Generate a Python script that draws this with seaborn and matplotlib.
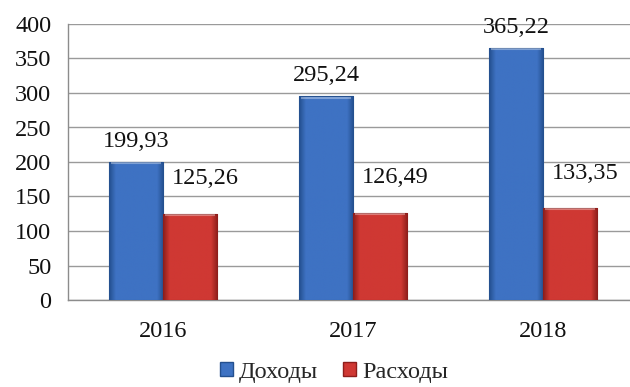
import matplotlib
matplotlib.use("Agg")
import matplotlib.pyplot as plt
import matplotlib.colors as mcolors
import seaborn as sns
import pandas as pd
import numpy as np

years = ["2016", "2017", "2018"]
income = [199.93, 295.24, 365.22]
expenses = [125.26, 126.49, 133.35]
series_names = ["Доходы", "Расходы"]
y_ticks = [0, 50, 100, 150, 200, 250, 300, 350, 400]

colors = {"Доходы": "#3e72c3", "Расходы": "#cf3833"}
edges = {"Доходы": "#24508f", "Расходы": "#8e1e1b"}
FS = 17.5

df = pd.DataFrame({
    "year": years * 2,
    "value": income + expenses,
    "series": [series_names[0]] * len(years) + [series_names[1]] * len(years),
})

sns.set_style("white")
plt.rcParams["font.family"] = ["Liberation Serif", "DejaVu Serif"]

fig = plt.figure(figsize=(6.3, 3.87), dpi=100)
ax = fig.add_axes([68 / 630, 87 / 387, 570 / 630, 276 / 387])

sns.barplot(data=df, x="year", y="value", hue="series", order=years,
            hue_order=series_names, palette=colors, width=0.57, gap=0,
            saturation=1, ax=ax, legend=False, zorder=3)

ax.set_ylim(0, 400)
ax.set_xlim(-0.5, 2.5)

# bevelled shading: a horizontal gradient clipped to each bar
bar_series = [series_names[0]] * 3 + [series_names[1]] * 3
for patch, name in zip(list(ax.patches), bar_series):
    base = np.array(mcolors.to_rgb(colors[name]))
    dark = np.array(mcolors.to_rgb(edges[name]))
    t = np.linspace(0, 1, 64)
    w = np.clip(np.minimum(t, 1 - t) / 0.12, 0, 1)  # dark near the sides
    row = dark[None, :] * (1 - w[:, None]) + base[None, :] * w[:, None]
    img = row[None, :, :]
    x0, y0 = patch.get_x(), patch.get_y()
    x1, y1 = x0 + patch.get_width(), y0 + patch.get_height()
    im = ax.imshow(img, extent=(x0, x1, y0, y1), aspect="auto",
                   zorder=3.5, interpolation="bilinear")
    im.set_clip_path(patch)
    patch.set_edgecolor(edges[name])
    patch.set_linewidth(0.8)
    patch.set_zorder(4)
    patch.set_facecolor("none")
    # light bevel along the top
    ax.plot([x0 + 0.01, x1 - 0.01], [y1 - 2.0, y1 - 2.0],
            color="white", alpha=0.35, linewidth=1.5, zorder=4.5,
            solid_capstyle="butt")

ax.set_xlim(-0.5, 2.5)
ax.set_ylim(0, 400)
ax.set_yticks(y_ticks)
ax.set_yticklabels([str(t) for t in y_ticks], fontsize=FS)
ax.yaxis.grid(True, color="#9a9a9a", linewidth=1.0, zorder=0)
ax.set_axisbelow(True)
ax.set_xlabel("")
ax.set_ylabel("")

for side in ["top", "right"]:
    ax.spines[side].set_visible(False)
for side in ["left", "bottom"]:
    ax.spines[side].set_color("#8c8c8c")
    ax.spines[side].set_linewidth(1.0)

ax.tick_params(axis="y", length=6, width=1.0, color="#8c8c8c", pad=6,
               labelcolor="#111111")
ax.tick_params(axis="x", which="major", length=0, pad=15, labelsize=FS,
               labelcolor="#111111")
ax.set_xticks([0.5, 1.5], minor=True)
ax.tick_params(axis="x", which="minor", length=7, width=1.0, color="#8c8c8c")

# value labels: income above bars, expenses above-right
inc_bars = ax.patches[:3]
exp_bars = ax.patches[3:6]
for bar, v in zip(inc_bars, income):
    ax.annotate(f"{v:.2f}".replace(".", ","),
                (bar.get_x() + bar.get_width() / 2, v),
                xytext=(0, 15), textcoords="offset points",
                ha="center", va="center", fontsize=FS, color="#111111")
for bar, v in zip(exp_bars, expenses):
    ax.annotate(f"{v:.2f}".replace(".", ","),
                (bar.get_x() + bar.get_width() / 2, v),
                xytext=(11, 25), textcoords="offset points",
                ha="center", va="center", fontsize=FS, color="#111111")

handles = [plt.Rectangle((0, 0), 1, 1, facecolor=colors[n], edgecolor=edges[n])
           for n in series_names]
fig.legend(handles, series_names, loc="lower center",
           bbox_to_anchor=(0.53, -0.045), ncol=2, frameon=False,
           fontsize=FS, handlelength=0.55, handleheight=0.55,
           handletextpad=0.25, columnspacing=1.0)

fig.savefig("out.png", dpi=100)
